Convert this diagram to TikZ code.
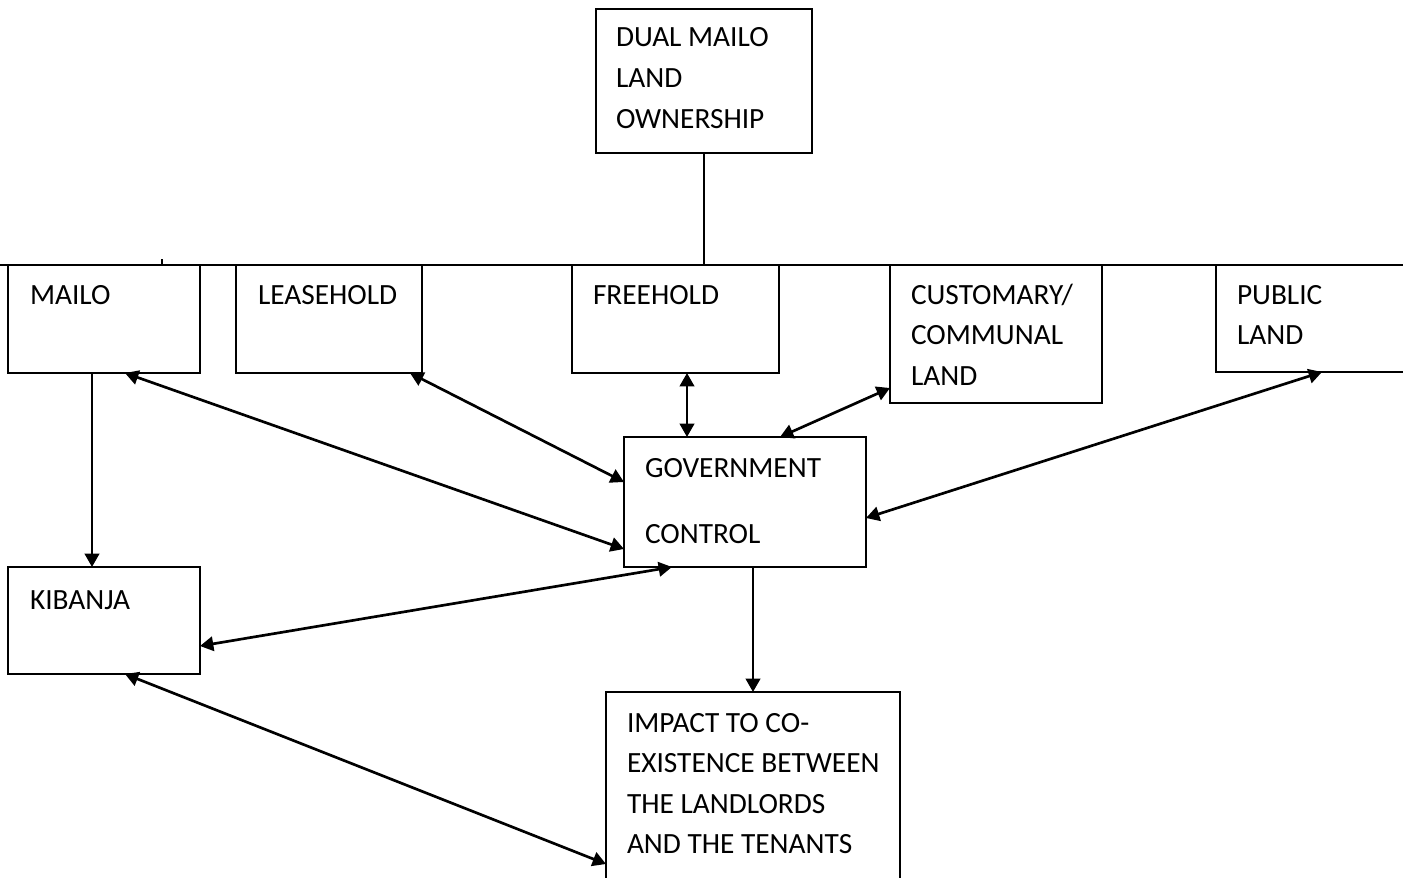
\documentclass[tikz,border=0pt]{standalone}
\usepackage{fontspec}
\setmainfont{Carlito}
\usetikzlibrary{arrows.meta}

\newdimen\px
\px=0.375pt
% box text: width, height, left pad, first baseline, lines
\newcommand{\boxlines}[5]{\parbox[c][#2\px][t]{#1\px}{\raggedright\leftskip=#3\px\relax\rule{0pt}{#4\px}#5}}

\tikzset{
	box/.style={draw, line width=1pt, rectangle, anchor=north west, inner sep=0pt, outer sep=0pt,
		font=\fontsize{11}{15.2}\selectfont},
	link/.style={line width=1pt, {Triangle[length=5pt,width=5.4pt]}-{Triangle[length=5pt,width=5.4pt]}},
	onelink/.style={line width=1pt, -{Triangle[length=5pt,width=5.4pt]}}
}

\begin{document}
\begin{tikzpicture}[x=0.375pt,y=-0.375pt]
\useasboundingbox (0,0) rectangle (1403,878);
\clip (0,0) rectangle (1403,878);

%top box
\node[box] (dual) at (596,9) {\boxlines{216}{144}{20}{38}{DUAL MAILO\\LAND\\OWNERSHIP}};

%row of tenure boxes
\node[box] (mailo) at (8,265) {\boxlines{192}{108}{22}{39}{MAILO}};
\node[box] (lease) at (236,265) {\boxlines{186}{108}{22}{39}{LEASEHOLD}};
\node[box] (free) at (572,265) {\boxlines{207}{108}{21}{39}{FREEHOLD}};
\node[box] (cust) at (890,265) {\boxlines{212}{138}{21}{39}{CUSTOMARY/\\COMMUNAL\\LAND}};
\node[box] (public) at (1216,265) {\boxlines{220}{107}{21}{39}{PUBLIC\\LAND}};

%middle and bottom boxes
\node[box] (gov) at (624,437) {\boxlines{242}{130}{21}{40}{GOVERNMENT\\[25.5\px]CONTROL}};
\node[box] (kib) at (8,567) {\boxlines{192}{107}{22}{42}{KIBANJA}};
\node[box] (impact) at (606,692) {\boxlines{294}{210}{21}{40}{IMPACT TO CO-\\EXISTENCE BETWEEN\\THE LANDLORDS\\AND THE TENANTS}};

%tree line
\coordinate (lft) at (0,265);
\coordinate (rgt) at (1403,265);
\coordinate (tick) at (162,259);
\draw[line width=1pt] (lft) -- (rgt);
\draw[line width=1pt] (dual.south) -- (dual.south |- lft);
\draw[line width=0.4pt] (tick) -- (tick |- lft);

%draw arrows
\draw[onelink] ([xshift=84\px]mailo.south west) -- ([xshift=84\px]kib.north west);
\draw[link] ([xshift=117\px]mailo.south west) -- ([yshift=-112\px]gov.north west);
\draw[link] ([xshift=-12\px]lease.south east) -- ([yshift=-45\px]gov.north west);
\draw[link] ([xshift=115\px]free.south west) -- ([xshift=63\px]gov.north west);
\draw[link] ([yshift=-123\px]cust.north west) -- ([xshift=156\px]gov.north west);
\draw[link] ([xshift=106\px]public.south west) -- ([yshift=-81\px]gov.north east);
\draw[link] ([xshift=48\px]gov.south west) -- ([yshift=-79\px]kib.north east);
\draw[onelink] ([xshift=129\px]gov.south west) -- ([xshift=147\px]impact.north west);
\draw[link] ([xshift=117\px]kib.south west) -- ([yshift=-172\px]impact.north west);
\end{tikzpicture}
\end{document}
